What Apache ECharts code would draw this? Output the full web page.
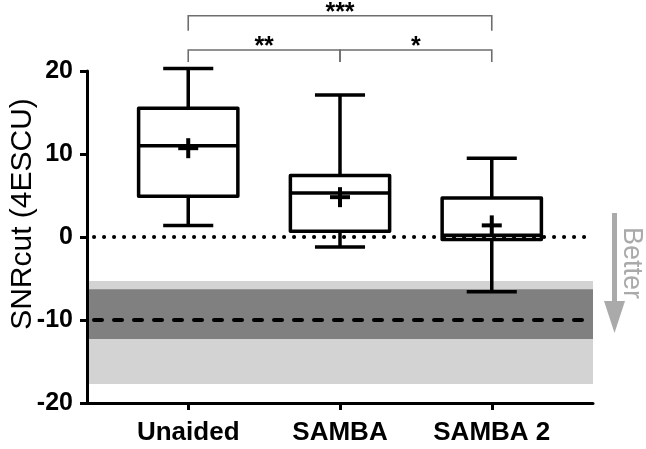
<!DOCTYPE html>
<html><head><meta charset="utf-8">
<script src="https://cdn.jsdelivr.net/npm/echarts@6/dist/echarts.min.js"></script>
<style>html,body{margin:0;padding:0;background:#fff}#c{width:646px;height:449px}</style>
</head><body><div id="c"></div>
<script>
// ---- data ----
const categories = ['Unaided', 'SAMBA', 'SAMBA 2'];
const whiskerLow = [1.4, -1.2, -6.6];
const q1 = [4.9, 0.7, -0.3];
const median = [11.0, 5.3, 0.2];
const q3 = [15.5, 7.4, 4.7];
const whiskerHigh = [20.3, 17.1, 9.5];
const means = [10.7, 4.8, 1.4];
const yTicks = [-20, -10, 0, 10, 20];
const referenceLevels = [0, -10];
const outerBand = [-17.7, -5.3];
const innerBand = [-12.3, -6.3];
const comparisons = [[0, 1, '**'], [1, 2, '*'], [0, 2, '***']];

// ---- layout / style constants ----
const FONT = '"Liberation Sans", Arial, sans-serif';
const X_MIN = -0.667, X_MAX = 2.667;
const BOX_HALF = 0.327, CAP_HALF = 0.165;

const boxData = categories.map((c, i) => [i, whiskerLow[i], q1[i], median[i], q3[i], whiskerHigh[i], means[i]]);
const bandData = [[outerBand[0], outerBand[1], 0], [innerBand[0], innerBand[1], 1]];
const bandColors = ['#d3d3d3', '#808080'];
const refData = referenceLevels.map((v, i) => [v, i]);
const refDash = [[0.1, 9.9], [8, 12]];

function renderBand(params, api) {
  const a = api.coord([X_MIN, api.value(1)]);
  const b = api.coord([X_MAX, api.value(0)]);
  return { type: 'rect', shape: { x: a[0] + 2, y: a[1], width: b[0] - a[0] - 2, height: b[1] - a[1] },
    style: { fill: bandColors[api.value(2)] } };
}
function renderRef(params, api) {
  const v = api.value(0);
  const a = api.coord([X_MIN, v]);
  const b = api.coord([X_MAX, v]);
  return { type: 'line', shape: { x1: a[0] + 7, y1: a[1], x2: b[0] - 4, y2: b[1] },
    style: { stroke: '#000', lineWidth: 4, lineDash: refDash[api.value(1)], lineCap: 'round' } };
}
function renderBox(params, api) {
  const i = api.value(0);
  const lo = api.value(1), b1 = api.value(2), md = api.value(3), b3 = api.value(4), hi = api.value(5), mn = api.value(6);
  const tl = api.coord([i - BOX_HALF, b3]);
  const br = api.coord([i + BOX_HALF, b1]);
  const lw = 3.5;
  const st = { stroke: '#000', lineWidth: lw, fill: null, lineJoin: 'round' };
  const seg = (x1, y1, x2, y2) => {
    const p = api.coord([x1, y1]), q = api.coord([x2, y2]);
    return { type: 'line', shape: { x1: p[0], y1: p[1], x2: q[0], y2: q[1] }, style: st };
  };
  const c = api.coord([i, mn]);
  return { type: 'group', children: [
    { type: 'rect', shape: { x: tl[0], y: tl[1], width: br[0] - tl[0], height: br[1] - tl[1] }, style: st },
    seg(i - BOX_HALF, md, i + BOX_HALF, md),
    seg(i, b3, i, hi),
    seg(i - CAP_HALF, hi, i + CAP_HALF, hi),
    seg(i, b1, i, lo),
    seg(i - CAP_HALF, lo, i + CAP_HALF, lo),
    { type: 'line', shape: { x1: c[0] - 10, y1: c[1], x2: c[0] + 10, y2: c[1] }, style: { stroke: '#000', lineWidth: 4 } },
    { type: 'line', shape: { x1: c[0], y1: c[1] - 10, x2: c[0], y2: c[1] + 10 }, style: { stroke: '#000', lineWidth: 4 } }
  ] };
}
function renderBracket(params, api) {
  const from = api.value(0), to = api.value(1);
  const span = to - from;
  const level = span > 1 ? 26.66 : 22.53;
  const drop = span > 1 ? 15 : 12;
  const a = api.coord([from, level]);
  const b = api.coord([to, level]);
  return { type: 'group', children: [
    { type: 'polyline', shape: { points: [[a[0], a[1] + drop], [a[0], a[1]], [b[0], b[1]], [b[0], b[1] + drop]] },
      style: { stroke: '#6e6e6e', lineWidth: 1.6, fill: null } },
    { type: 'text', style: { text: comparisons[params.dataIndex][2], x: (a[0] + b[0]) / 2, y: a[1] - 3,
      align: 'center', verticalAlign: 'middle', font: 'bold 25px ' + FONT, fill: '#000' } }
  ] };
}

const chart = echarts.init(document.getElementById('c'), null, { renderer: 'canvas' });
chart.setOption({
  animation: false,
  backgroundColor: '#fff',
  grid: { left: 87, right: 53, top: 71, bottom: 46, containLabel: false, outerBoundsMode: 'none' },
  xAxis: {
    type: 'value', min: X_MIN, max: X_MAX,
    axisLine: { show: true, onZero: false, lineStyle: { color: '#000', width: 3 } },
    axisTick: { show: true, length: 7, lineStyle: { color: '#000', width: 3 }, customValues: categories.map((c, i) => i) },
    axisLabel: { show: true, margin: 17, customValues: categories.map((c, i) => i),
      formatter: v => categories[Math.round(v)] || '',
      fontFamily: FONT, fontSize: 26, fontWeight: 'bold', color: '#000' },
    splitLine: { show: false }
  },
  yAxis: {
    type: 'value', min: yTicks[0], max: yTicks[yTicks.length - 1], interval: yTicks[1] - yTicks[0],
    name: 'SNRcut (4ESCU)', nameLocation: 'middle', nameGap: 49, nameMoveOverlap: false,
    nameTextStyle: { fontFamily: FONT, fontSize: 30, color: '#000', padding: [0, 0, 0, 46] },
    axisLine: { show: true, onZero: false, lineStyle: { color: '#000', width: 3 } },
    axisTick: { show: true, length: 7, lineStyle: { color: '#000', width: 3 } },
    axisLabel: { margin: 14, fontFamily: FONT, fontSize: 25, fontWeight: 'bold', color: '#000' },
    splitLine: { show: false }
  },
  series: [
    { type: 'custom', name: 'bands', z: 1, silent: true, renderItem: renderBand, data: bandData, clip: false },
    { type: 'custom', name: 'refs', z: 2, silent: true, renderItem: renderRef, data: refData, clip: false },
    { type: 'custom', name: 'boxes', z: 3, silent: true, renderItem: renderBox, data: boxData, clip: false },
    { type: 'custom', name: 'brackets', z: 4, silent: true, renderItem: renderBracket,
      data: comparisons.map(c => [c[0], c[1]]), clip: false }
  ],
  graphic: [
    { type: 'line', shape: { x1: 614.5, y1: 213, x2: 614.5, y2: 304 }, style: { stroke: '#aaaaaa', lineWidth: 5 } },
    { type: 'polygon', shape: { points: [[604, 301], [625, 301], [614.5, 333]] }, style: { fill: '#aaaaaa' } },
    { type: 'text', x: 631, y: 263, rotation: -Math.PI / 2,
      style: { text: 'Better', font: '27px ' + FONT, fill: '#aaaaaa', align: 'center', verticalAlign: 'middle' } }
  ]
});
</script></body></html>
